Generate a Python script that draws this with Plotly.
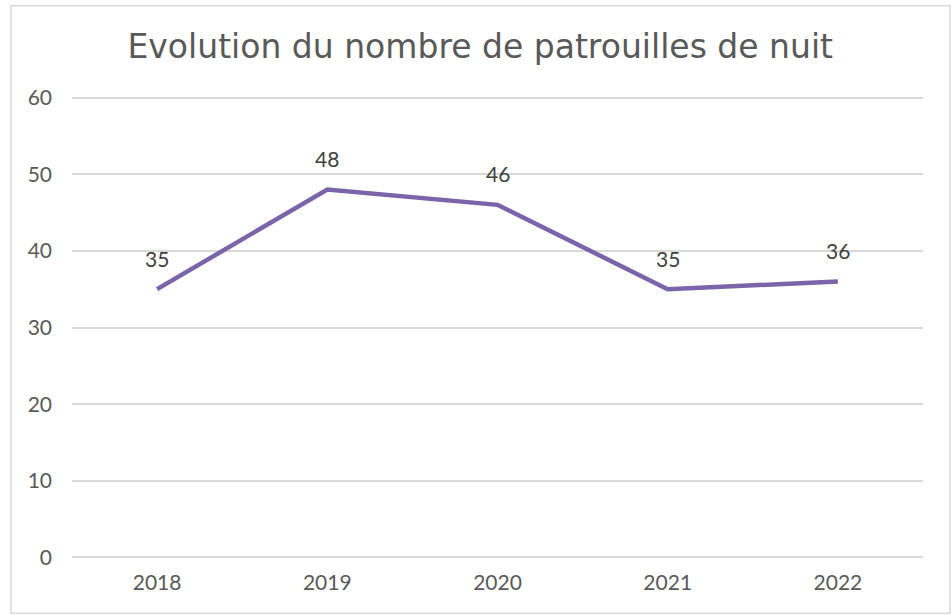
import plotly.graph_objects as go

years = ["2018", "2019", "2020", "2021", "2022"]
patrouilles = [35, 48, 46, 35, 36]
title_text = "Evolution du nombre de patrouilles de nuit"

FONT = "Lato, 'Noto Sans', sans-serif"
TFONT = "'DejaVu Sans', sans-serif"
GREY = "#595959"
LINE = "#7B64A9"

fig = go.Figure()
fig.add_trace(go.Scatter(
    x=years, y=patrouilles, mode="lines",
    line=dict(color=LINE, width=4.5),
    hoverinfo="x+y", showlegend=False,
))
for i, y in enumerate(patrouilles):
    fig.add_annotation(x=i, y=y, xref="x", yref="y", text=str(y), showarrow=False,
                       yshift=31, font=dict(family=FONT, size=21, color="#404040"))

fig.update_layout(
    width=951, height=615,
    margin=dict(l=72, r=28, t=95.5, b=55.5),
    paper_bgcolor="white", plot_bgcolor="white",
    title=dict(text=title_text, x=0.505, xanchor="center", xref="container",
               y=1 - 46 / 615, yanchor="middle", yref="container",
               font=dict(family=TFONT, size=33, color=GREY)),
    xaxis=dict(type="category", range=[-0.5, 4.5], showgrid=False, showline=False,
               zeroline=False, ticks="", tickfont=dict(family=FONT, size=21, color=GREY),
               ticklabelstandoff=9),
    yaxis=dict(range=[-0.2, 60.2], tickvals=[0, 10, 20, 30, 40, 50, 60],
               showgrid=True, gridcolor="#D9D9D9", gridwidth=1.5,
               zeroline=False, showline=False, ticks="",
               tickfont=dict(family=FONT, size=21, color=GREY), ticklabelstandoff=19),
    shapes=[dict(type="rect", xref="paper", yref="paper",
                 x0=-0.0717, x1=1.0317, y0=-0.1174, y1=1.1949,
                 line=dict(color="#D9D9D9", width=1.5), fillcolor="rgba(0,0,0,0)",
                 layer="below")],
)
fig.write_html("out.html", config={"displayModeBar": False},
               post_script="document.body.style.margin='0';")
